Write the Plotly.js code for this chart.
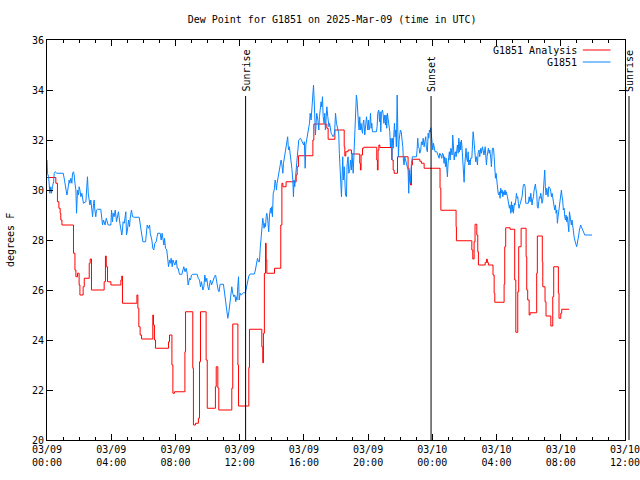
<!DOCTYPE html>
<html><head><meta charset="utf-8">
<script src="https://cdn.plot.ly/plotly-3.0.1.min.js"></script>
<style>html,body{margin:0;padding:0;background:#fff}</style>
</head><body><div id="chart" style="width:640px;height:480px"></div>
<script>
// x values are hours since 2025-03-09 00:00 UTC
const tickHours = [0,4,8,12,16,20,24,28,32,36];
const tickLabels = ['03/09<br>00:00','03/09<br>04:00','03/09<br>08:00','03/09<br>12:00','03/09<br>16:00','03/09<br>20:00','03/10<br>00:00','03/10<br>04:00','03/10<br>08:00','03/10<br>12:00'];
const sunHours = [12.37, 23.92, 36.25];
const sunLabels = ['Sunrise','Sunset','Sunrise'];
const seriesNames = ['G1851 Analysis','G1851'];

// G1851 Analysis (step values: [hour, degF])
const analysisPoints = [
[0,30.5],[0.55,30.27],[0.65,29.53],[0.74,29.27],[0.82,29.07],[0.86,28.8],[0.93,28.6],[1.65,27.47],[1.74,26.8],[1.80,26.53],[1.90,26.67],[2.0,26.2],[2.05,25.8],[2.25,26.13],[2.32,26.47],[2.63,27.07],[2.69,27.24],[2.77,26.0],[3.56,26.33],[3.64,27.36],[3.69,26.93],[3.77,26.33],[3.98,26.2],[4.60,26.4],[4.66,26.56],[4.70,25.47],[5.60,25.8],[5.66,25.27],[5.72,24.53],[5.80,24.2],[5.89,24.04],
[6.59,25.0],[6.63,24.6],[6.69,24.0],[6.76,23.67],[7.57,23.93],[7.63,24.2],[7.78,23.0],[7.84,21.87],[7.94,21.93],[8.59,23.53],[8.63,25.13],[9.08,22.87],[9.12,20.6],[9.25,20.67],[9.43,20.87],[9.50,23.13],[9.56,25.13],[9.91,23.2],[9.98,21.27],[10.49,22.13],[10.54,22.93],[10.64,22.08],[10.70,21.2],[11.51,22.07],[11.57,24.64],[11.89,23.0],[11.93,21.36],
[12.57,22.9],[12.61,24.43],[13.38,23.73],[13.44,23.09],[13.48,24.27],[13.54,26.67],[13.61,27.87],[13.65,27.2],[13.69,26.67],[14.17,26.87],[14.56,28.6],[14.63,30.27],[14.69,30.13],[14.89,30.33],[15.52,30.6],[15.58,30.93],[15.66,31.37],[16.56,32.0],[16.62,32.64],[17.43,32.47],[17.51,32.03],
[17.93,32.4],[18.51,31.73],[18.55,31.36],[18.61,31.53],[18.75,31.6],[18.96,31.44],[19.48,31.07],[19.52,30.8],[19.56,31.4],[19.65,31.67],[19.73,31.71],[20.54,31.2],[20.58,30.8],[20.62,31.6],[20.67,31.8],[20.73,31.7],[21.49,31.2],[21.56,30.8],[21.62,30.67],[21.83,31.33],[22.49,30.87],[22.55,30.4],[22.64,30.2],[22.70,31.0],[22.76,31.23],[23.22,31.15],[23.32,31.07],[23.49,30.87],
[24.48,30.07],[24.53,29.19],[25.48,28.53],[25.50,27.97],[26.46,27.6],[26.52,27.24],[26.60,27.93],[26.66,28.63],[26.77,28.2],[26.83,27.53],[26.87,27.0],[27.29,27.1],[27.37,27.23],[27.43,27.1],[27.49,27.0],[27.78,26.6],[27.85,25.87],[27.89,25.51],[28.47,26.23],[28.51,27.73],[28.57,28.49],[28.84,28.43],[29.13,26.4],[29.20,24.31],[29.32,25.93],[29.38,27.73],[29.53,28.47],[29.84,27.33],[29.88,26.0],[29.94,25.6],[30.03,25.0],[30.09,25.09],[30.50,26.67],[30.54,28.16],[30.85,27.13],[30.88,26.13],[31.02,25.53],[31.08,24.96],[31.38,24.56],[31.50,25.73],[31.56,26.93],[31.85,25.87],[31.89,24.87],[32.00,25.07],[32.06,25.23],[32.52,25.23]
];

// G1851 observations ([hour, degF])
const stationPoints = [
[0,31.2],[0.03,30.67],[0.10,30.53],[0.18,29.87],[0.24,30.13],[0.28,29.87],[0.34,30.13],[0.41,30.33],[0.45,30.67],[0.51,30.73],[0.61,30.67],[1.01,30.67],[1.07,30.47],[1.11,30.27],[1.17,29.93],[1.24,29.8],[1.28,29.93],[1.34,30.27],[1.38,30.4],[1.42,30.27],[1.49,30.47],[1.55,30.27],[1.59,30.67],[1.65,30.73],[1.69,30.6],[1.74,30.27],[1.80,30.0],[1.84,29.07],[1.86,29.6],[1.90,30.0],[1.96,29.8],[2.0,30.13],[2.05,30.0],[2.11,29.73],[2.17,29.87],[2.21,29.67],[2.27,29.47],[2.42,29.53],[2.48,30.13],[2.52,30.53],[2.57,29.87],[2.63,29.67],[2.67,29.4],[2.73,29.6],[2.77,29.2],[2.84,28.93],[2.90,29.47],[2.94,29.6],[2.98,29.2],[3.04,28.93],[3.08,29.2],[3.15,29.23],[3.35,29.23],[3.40,28.93],[3.46,28.6],[3.52,28.8],[3.56,28.73],[3.62,28.6],[3.69,28.87],[3.77,28.73],[3.81,28.6],[3.98,28.6],[4.02,29.2],[4.08,28.73],[4.12,29.07],[4.18,28.93],[4.25,29.2],[4.33,28.73],[4.39,28.93],[4.45,29.13],[4.54,28.67],[4.60,28.47],[4.66,28.2],[4.70,28.4],[4.74,28.73],[4.81,28.67],[4.87,28.87],[4.91,29.13],[4.95,28.2],[5.01,28.4],[5.08,28.8],[5.14,28.53],[5.18,28.87],[5.26,29.2],[5.33,28.93],[5.43,28.91],[5.74,28.91],[5.78,28.73],
[5.87,28.2],[5.97,27.93],[6.14,27.93],[6.18,28.4],[6.24,28.6],[6.32,28.47],[6.39,28.6],[6.43,28.27],[6.53,28.0],[6.59,27.67],[6.65,27.6],[6.72,27.87],[6.80,27.93],[6.86,28.13],[6.90,28.27],[7.05,28.27],[7.11,28.0],[7.17,28.27],[7.21,28.07],[7.28,27.8],[7.32,28.07],[7.38,27.67],[7.46,27.6],[7.53,27.27],[7.57,26.93],[7.63,27.2],[7.69,27.07],[7.73,27.27],[7.80,26.93],[7.84,27.2],[7.90,27.13],[7.96,27.0],[8.05,27.2],[8.11,26.87],[8.17,26.87],[8.25,26.63],[8.40,26.63],[8.46,26.87],[8.52,26.93],[8.60,26.73],[8.67,26.87],[8.73,26.67],[8.79,26.2],[8.88,26.47],[8.94,26.4],[9.0,26.6],[9.08,26.63],[9.35,26.63],[9.42,26.47],[9.50,26.4],[9.56,26.13],[9.62,26.33],[9.71,26.0],[9.77,26.13],[9.83,26.6],[9.89,26.33],[9.95,26.47],[10.02,26.13],[10.08,26.0],[10.12,26.2],[10.18,26.4],[10.25,26.2],[10.31,26.33],[10.37,26.4],[10.43,26.53],[10.50,26.6],[10.54,26.4],[10.60,26.33],[10.66,26.0],[10.72,25.93],[10.78,26.23],[10.99,26.23],[11.05,25.93],[11.11,25.73],[11.16,25.47],[11.20,25.33],[11.26,24.87],[11.33,25.13],[11.39,25.53],[11.45,25.8],[11.51,26.13],[11.57,25.87],[11.64,25.73],[11.70,25.8],[11.76,25.53],
[11.78,25.73],[11.84,25.6],[11.88,26.13],[11.93,26.53],[11.97,25.6],[12.03,25.87],[12.09,25.8],[12.24,25.89],[12.36,25.89],[12.44,26.13],[12.51,26.4],[12.57,26.56],[12.65,26.64],[12.92,26.64],[12.98,26.8],[13.07,27.07],[13.11,27.27],[13.17,27.13],[13.23,27.13],[13.28,27.67],[13.34,28.27],[13.40,28.73],[13.44,28.87],[13.48,28.67],[13.52,28.47],[13.57,28.67],[13.61,28.53],[13.65,28.93],[13.69,29.07],[13.75,28.8],[13.79,28.53],[13.81,28.33],[13.86,29.0],[13.92,29.27],[13.96,29.07],[14.0,29.33],[14.04,28.93],[14.09,29.87],[14.15,30.0],[14.21,30.4],[14.25,30.27],[14.29,30.0],[14.33,30.27],[14.37,30.4],[14.42,30.53],[14.48,30.8],[14.54,31.07],[14.58,31.2],[14.62,31.07],[14.69,30.67],[14.73,31.07],[14.79,31.33],[14.83,31.47],[14.89,31.6],[14.93,31.87],[14.99,32.13],[15.04,31.6],[15.10,31.73],[15.14,31.47],[15.20,31.2],[15.25,30.87],[15.31,30.4],[15.35,29.73],[15.39,30.4],[15.43,30.13],[15.48,30.53],[15.52,30.87],[15.58,31.4],[15.64,31.6],[15.68,32.0],[15.79,32.07],[15.85,32.0],[15.93,31.93],[15.99,31.8],[16.03,31.93],[16.08,30.87],[16.12,31.8],[16.18,32.07],[16.24,32.4],[16.31,32.53],[16.35,32.67],[16.39,33.07],[16.45,32.8],[16.51,33.33],[16.55,33.73],[16.60,34.2],[16.64,33.6],[16.68,32.8],[16.72,32.2],[16.76,32.67],[16.80,33.07],[16.87,32.8],[16.93,32.4],[16.97,32.93],[17.01,33.2],[17.07,33.53],[17.11,33.33],[17.16,33.73],[17.20,32.93],[17.26,32.67],[17.30,33.07],[17.34,32.4],[17.39,32.93],[17.43,33.33],[17.49,32.93],[17.56,32.53],[17.60,32.67],[17.64,32.4],[17.70,32.27],
[17.82,32.13],[17.88,32.2],[17.92,32.4],[17.97,33.07],[18.03,32.67],[18.07,32.53],[18.13,32.33],[18.17,32.27],[18.21,31.47],[18.26,30.53],[18.30,30.13],[18.34,29.73],[18.38,30.53],[18.42,31.33],[18.46,30.4],[18.51,30.93],[18.55,30.4],[18.59,29.8],[18.65,29.73],[18.69,31.0],[18.75,31.33],[18.80,30.67],[18.86,30.8],[18.90,31.2],[18.96,30.8],[19.0,31.47],[19.07,30.67],[19.11,31.2],[19.17,32.0],[19.23,32.8],[19.27,33.8],[19.31,33.6],[19.36,32.8],[19.40,32.67],[19.44,32.4],[19.48,32.93],[19.52,32.4],[19.56,32.67],[19.61,32.4],[19.65,32.27],[19.69,32.67],[19.73,32.8],[19.79,32.2],[19.83,32.53],[19.90,32.93],[19.94,32.67],[19.98,32.4],[20.02,32.8],[20.06,32.4],[20.10,32.53],[20.15,33.07],[20.19,32.47],[20.23,32.67],[20.27,32.33],[20.52,32.33],[20.56,32.53],[20.60,33.07],[20.66,33.2],[20.71,32.73],[20.75,33.13],[20.79,32.33],[20.83,33.07],[20.89,33.2],[20.93,33.07],[20.98,32.67],[21.04,33.0],[21.08,32.6],[21.12,33.0],[21.16,32.47],[21.20,33.07],[21.25,32.8],[21.29,32.53],[21.35,32.33],[21.39,31.73],[21.43,32.07],[21.48,31.2],[21.51,32.07],[21.56,31.67],[21.60,32.27],[21.64,32.67],[21.68,32.13],[21.72,32.4],[21.76,31.73],[21.81,33.8],[21.85,32.4],[21.89,31.33],[21.93,32.0],[21.97,32.13],[22.01,32.4],[22.06,32.33],[22.12,32.07],[22.16,31.73],[22.20,31.2],[22.24,31.0],[22.28,31.33],[22.39,31.07],[22.45,31.0],[22.49,30.8],[22.53,29.87],[22.57,30.8],[22.62,30.27],[22.66,30.93],[22.70,31.07],[22.76,31.33],[23.01,31.33],[23.05,31.6],[23.09,32.07],[23.13,31.73],[23.18,31.67],[23.22,31.47],[23.28,31.6],[23.32,31.93],[23.38,31.8],[23.43,32.07],[23.49,31.73],[23.53,31.93],[23.59,32.13],[23.63,31.67],[23.69,31.53],
[23.74,32.27],[23.78,32.07],[23.82,32.4],[23.86,32.33],[23.90,32.49],[23.94,32.07],[23.99,31.8],[24.03,31.6],[24.07,31.87],[24.11,31.67],[24.17,31.53],[24.28,31.53],[24.32,31.47],[24.38,31.33],[24.42,31.27],[24.46,31.47],[24.53,31.4],[24.59,31.27],[24.63,31.47],[24.69,31.4],[24.73,31.07],[24.77,31.33],[24.82,30.93],[24.86,31.27],[24.90,30.73],[24.94,30.53],[24.98,31.07],[25.02,31.4],[25.06,31.53],[25.11,31.2],[25.15,31.67],[25.19,31.6],[25.23,31.4],[25.27,32.2],[25.31,31.8],[25.36,31.2],[25.40,31.47],[25.44,31.53],[25.48,31.33],[25.52,31.67],[25.56,31.8],[25.61,31.47],[25.65,32.07],[25.69,31.53],[25.73,31.93],[25.77,31.6],[25.81,32.0],[25.85,31.67],[25.90,31.0],[25.94,30.67],[25.98,30.31],[26.02,31.0],[26.06,31.33],[26.10,31.67],[26.14,31.27],[26.19,31.13],[26.23,31.53],[26.27,31.0],[26.31,31.2],[26.35,31.0],[26.39,31.27],[26.46,31.27],[26.50,31.8],[26.54,32.33],[26.58,32.07],[26.62,31.67],[26.66,31.4],[26.70,31.13],[26.75,31.33],[26.81,31.0],[26.85,31.47],[26.91,31.6],[26.95,31.33],[27.02,31.67],[27.06,31.47],[27.12,31.73],[27.16,31.6],[27.22,31.4],[27.29,31.73],[27.33,31.47],[27.37,31.0],[27.41,31.33],[27.45,31.47],[27.49,31.67],[27.54,31.47],[27.58,31.6],[27.64,31.27],[27.68,30.93],[27.74,31.67],[27.81,31.67],[27.85,31.33],[27.89,30.93],[27.93,30.47],[27.97,30.67],[28.01,30.33],[28.05,30.13],[28.10,29.87],[28.14,29.8],[28.18,29.93],[28.22,29.67],[28.26,30.07],[28.30,29.87],[28.35,30.0],[28.39,29.73],[28.43,29.93],[28.47,29.8],[28.53,30.0],[28.57,29.8],[28.61,29.93],[28.68,29.73],[28.74,29.53],[28.80,29.27],[28.84,29.4],[28.89,29.07],[28.93,29.53],[28.97,29.13],[29.01,29.4],[29.05,29.07],
[29.07,29.2],[29.11,29.47],[29.15,29.4],[29.20,29.6],[29.24,29.87],[29.28,29.67],[29.32,29.73],[29.36,29.47],[29.40,29.27],[29.44,29.4],[29.49,29.47],[29.53,29.6],[29.59,29.73],[29.63,30.0],[29.67,30.2],[29.73,30.24],[29.78,30.13],[29.82,29.47],[29.98,29.47],[30.03,29.73],[30.09,29.53],[30.13,29.87],[30.17,29.67],[30.21,29.4],[30.25,29.6],[30.30,29.73],[30.34,30.0],[30.38,30.2],[30.42,30.24],[30.46,30.0],[30.50,29.87],[30.54,29.33],[30.59,29.27],[30.63,29.53],[30.67,29.73],[30.71,29.67],[30.75,29.87],[30.79,29.73],[30.83,29.47],[30.88,29.6],[30.92,29.93],[30.96,30.47],[31.00,30.8],[31.04,30.13],[31.08,29.8],[31.13,30.07],[31.17,29.87],[31.21,29.73],[31.25,30.13],[31.33,30.07],[31.38,29.93],[31.42,29.73],[31.46,29.87],[31.50,29.67],[31.54,29.47],[31.58,29.27],[31.62,29.2],[31.67,29.4],[31.71,29.07],[31.75,29.2],[31.79,28.67],[31.83,28.93],[31.87,29.13],[31.92,29.2],[31.96,29.4],[32.00,29.6],[32.04,30.0],[32.08,29.73],[32.12,29.6],[32.16,29.2],[32.21,29.27],[32.25,28.93],[32.29,28.8],[32.33,29.0],[32.37,28.73],[32.41,28.93],[32.45,28.6],[32.50,28.33],[32.54,29.13],[32.58,29.0],[32.62,28.8],[32.66,28.6],[32.70,28.8],[32.74,28.53],[32.79,28.33],[32.83,28.13],[32.87,28.0],[32.91,27.93],[32.95,27.8],[32.99,27.73],[33.03,27.87],[33.08,28.0],[33.12,28.2],[33.16,28.4],[33.20,28.53],[33.24,28.6],[33.28,28.53],[33.33,28.47],[33.37,28.4],[33.41,28.33],[33.45,28.27],[33.49,28.2],[33.95,28.2]
];

const xMin = 0, xMax = 36;
const FONT = 'DejaVu Sans Mono, monospace';
const redColor = '#ff0000', blueColor = '#0a84ff';

const traces = [
  {x: analysisPoints.map(p=>p[0]), y: analysisPoints.map(p=>p[1]), type:'scatter', mode:'lines',
   line:{color:redColor, width:1, shape:'hv'}, name: seriesNames[0], hoverinfo:'skip'},
  {x: stationPoints.map(p=>p[0]), y: stationPoints.map(p=>p[1]), type:'scatter', mode:'lines',
   line:{color:blueColor, width:1}, name: seriesNames[1], hoverinfo:'skip'}
];

const toPaperX = h => (h - xMin) / (xMax - xMin);
const shapes = [], annotations = [];
sunHours.forEach((h,i) => {
  shapes.push({type:'line', xref:'paper', yref:'paper', x0:toPaperX(h), x1:toPaperX(h), y0:0, y1:0.86,
    line:{color:'black', width:1}, layer:'above'});
  annotations.push({xref:'paper', yref:'paper', x:toPaperX(h), y:0.865, xanchor:'center', yanchor:'bottom',
    text:sunLabels[i], textangle:-90, showarrow:false, font:{family:FONT, size:10, color:'black'}});
});
// legend (text on the left of the sample line, like the original)
const legendColors = [redColor, blueColor];
const legendY = [0.975, 0.945];
seriesNames.forEach((n,i) => {
  annotations.push({xref:'paper', yref:'paper', x:0.92, y:legendY[i], xanchor:'right', yanchor:'middle',
    text:n, showarrow:false, font:{family:FONT, size:10, color:'black'}});
  shapes.push({type:'line', xref:'paper', yref:'paper', x0:0.927, x1:0.975, y0:legendY[i], y1:legendY[i],
    line:{color:legendColors[i], width:1}});
});
annotations.push({xref:'paper', yref:'paper', x:-0.064, y:0.5, xanchor:'center', yanchor:'middle',
  text:'degrees F', textangle:-90, showarrow:false, font:{family:FONT, size:10, color:'black'}});

const layout = {
  width:640, height:480,
  margin:{l:47, r:15, t:40, b:40},
  paper_bgcolor:'#fff', plot_bgcolor:'#fff',
  font:{family:FONT, size:10, color:'black'},
  showlegend:false,
  title:{text:'Dew Point for G1851 on 2025-Mar-09 (time in UTC)', xref:'container', x:0.519, xanchor:'center',
         yref:'container', y:0.96, yanchor:'middle', font:{family:FONT, size:10, color:'black'}},
  xaxis:{range:[xMin - 0.0001, xMax + 0.0001], tickmode:'array', tickvals:tickHours, ticktext:tickLabels,
         ticks:'inside', ticklen:6, tickcolor:'black', showline:true, linecolor:'black', linewidth:1,
         mirror:'ticks', showgrid:false, zeroline:false, fixedrange:true, ticklabeloverflow:'allow',
         automargin:false,
         minor:{tickmode:'linear', tick0:0, dtick:1, ticks:'inside', ticklen:3, tickcolor:'black', showgrid:false},
         tickfont:{family:FONT, size:10, color:'black'}},
  yaxis:{range:[20,36], tickmode:'linear', tick0:20, dtick:2,
         ticks:'inside', ticklen:6, tickcolor:'black', showline:true, linecolor:'black', linewidth:1,
         mirror:'ticks', showgrid:false, zeroline:false, fixedrange:true, automargin:false,
         tickfont:{family:FONT, size:10, color:'black'}},
  shapes: shapes,
  annotations: annotations
};
Plotly.newPlot('chart', traces, layout, {staticPlot:true, displayModeBar:false});
</script>
</body></html>
